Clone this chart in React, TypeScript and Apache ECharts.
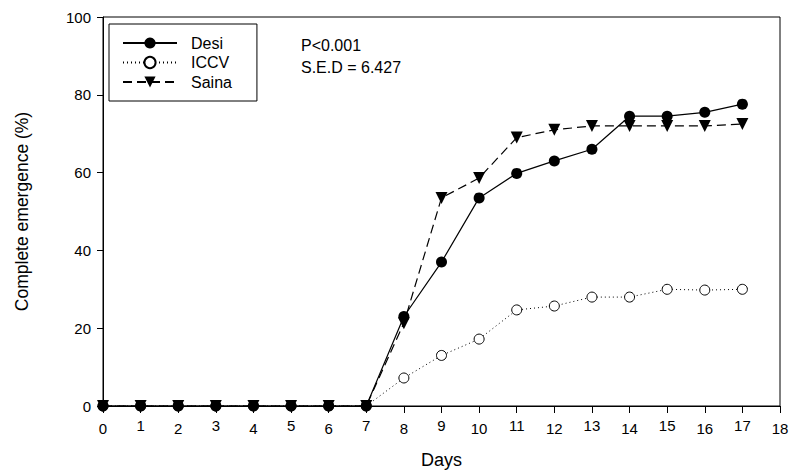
import React, { useEffect, useRef } from "react";
import * as echarts from "echarts";

const days = [0, 1, 2, 3, 4, 5, 6, 7, 8, 9, 10, 11, 12, 13, 14, 15, 16, 17];
const desi = [0, 0, 0, 0, 0, 0, 0, 0, 23, 37, 53.5, 59.8, 63, 66, 74.5, 74.5, 75.5, 77.6];
const iccv = [0, 0, 0, 0, 0, 0, 0, 0, 7.2, 13, 17.2, 24.7, 25.7, 28, 28, 30, 29.8, 30];
const saina = [0, 0, 0, 0, 0, 0, 0, 0, 21.3, 53.5, 58.6, 69, 71, 72, 72, 72, 72, 72.5];
const annotations = ["P<0.001", "S.E.D = 6.427"];

const FONT = "'Liberation Sans', Arial, sans-serif";

export default function App() {
  const ref = useRef<HTMLDivElement>(null);
  useEffect(() => {
    if (!ref.current) return;
    document.body.style.margin = "0";
    const chart = echarts.init(ref.current, null, { renderer: "svg" });
    const pair = (arr: number[]) => days.map((d, i) => [d, arr[i]]);
    chart.setOption({
      animation: false,
      backgroundColor: "#fff",
      textStyle: { fontFamily: FONT, color: "#000" },
      grid: {
        left: 103,
        right: 22,
        top: 17,
        bottom: 68,
        show: true,
        borderColor: "#000",
        borderWidth: 1,
      },
      legend: {
        orient: "vertical",
        left: 109,
        top: 24,
        padding: [10, 25, 10, 13],
        itemGap: 1.5,
        itemWidth: 54,
        itemHeight: 14,
        borderColor: "#000",
        borderWidth: 1,
        textStyle: { fontFamily: FONT, fontSize: 16, lineHeight: 18, color: "#000", padding: [0, 0, 0, 9] },
        data: ["Desi", "ICCV", "Saina"],
      },
      xAxis: {
        type: "value",
        min: 0,
        max: 18,
        interval: 1,
        name: "Days",
        nameLocation: "middle",
        nameGap: 45,
        nameTextStyle: { fontFamily: FONT, fontSize: 18, color: "#000" },
        axisLine: { lineStyle: { color: "#000", width: 1 } },
        axisTick: { show: true, length: 7, lineStyle: { color: "#000" } },
        splitLine: { show: false },
        axisLabel: {
          margin: 12,
          fontFamily: FONT,
          fontSize: 15,
          color: "#000",
          formatter: (v: number) => (v % 2 === 0 ? `{e|${v}}` : `{o|${v}}`),
          rich: {
            e: { fontFamily: FONT, fontSize: 15, color: "#000", padding: [3, 0, 0, 0] },
            o: { fontFamily: FONT, fontSize: 15, color: "#000", padding: [0, 0, 3, 0] },
          },
        },
      },
      yAxis: {
        type: "value",
        min: 0,
        max: 100,
        interval: 20,
        name: "Complete emergence (%)",
        nameLocation: "middle",
        nameGap: 72,
        nameTextStyle: { fontFamily: FONT, fontSize: 17.5, color: "#000" },
        axisLine: { show: true, lineStyle: { color: "#000", width: 1 } },
        axisTick: { show: true, length: 6, lineStyle: { color: "#000" } },
        splitLine: { show: false },
        axisLabel: { margin: 12, fontFamily: FONT, fontSize: 15, color: "#000" },
      },
      graphic: [
        {
          type: "text",
          left: 301,
          top: 37,
          style: { text: annotations[0], font: `16px ${FONT}`, fill: "#000" },
        },
        {
          type: "text",
          left: 301,
          top: 59,
          style: { text: annotations[1], font: `16px ${FONT}`, fill: "#000" },
        },
      ],
      series: [
        {
          name: "ICCV",
          type: "line",
          data: pair(iccv),
          symbol: "circle",
          symbolSize: 10,
          clip: false,
          lineStyle: { color: "#000", width: 1, type: [1, 3] },
          itemStyle: { color: "#fff", borderColor: "#000", borderWidth: 1 },
          z: 2,
        },
        {
          name: "Desi",
          type: "line",
          data: pair(desi),
          symbol: "circle",
          symbolSize: 11,
          clip: false,
          lineStyle: { color: "#000", width: 1.2, type: "solid" },
          itemStyle: { color: "#000" },
          z: 3,
        },
        {
          name: "Saina",
          type: "line",
          data: pair(saina),
          symbol: "triangle",
          symbolRotate: 180,
          symbolSize: 12,
          clip: false,
          lineStyle: { color: "#000", width: 1.2, type: [9, 5] },
          itemStyle: { color: "#000" },
          z: 4,
        },
      ],
    });
    return () => chart.dispose();
  }, []);
  return <div ref={ref} style={{ width: 802, height: 474, position: "fixed", left: 0, top: 0 }} />;
}
